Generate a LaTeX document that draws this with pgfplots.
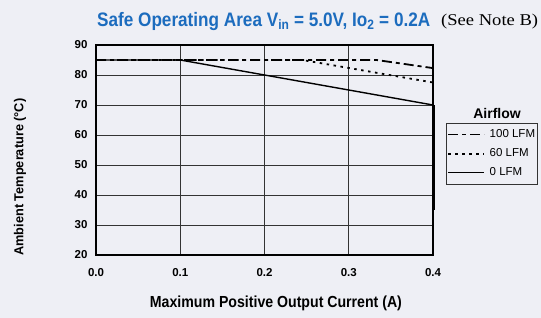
\documentclass[border=0pt]{standalone}
\usepackage{fontspec}
\setmainfont{Liberation Sans}
\newfontfamily\seriffont{Liberation Serif}
\usepackage{pgfplots}
\pgfplotsset{compat=1.18}
\definecolor{bgcol}{RGB}{238,239,245}
\definecolor{titleblue}{RGB}{28,108,190}
\begin{document}
\begin{tikzpicture}[x=1pt,y=1pt]
\fill[bgcol] (0,0) rectangle (541,318);
\begin{axis}[
  at={(96pt,63pt)}, anchor=south west,
  scale only axis, width=337pt, height=210pt,
  xmin=0, xmax=0.4, ymin=20, ymax=90,
  xtick={0,0.1,0.2,0.3,0.4}, ytick={20,30,...,90},
  xticklabel style={/pgf/number format/fixed, /pgf/number format/fixed zerofill, /pgf/number format/precision=1, yshift=-10pt},
  /pgf/number format/assume math mode=true,
  ticklabel style={font=\fontsize{11.5}{12}\selectfont\bfseries},
  yticklabel style={xshift=-5pt},
  major tick length=0pt,
  grid=major,
  major grid style={black!80, line width=0.8pt},
  axis line style={black, line width=1.2pt},
  legend style={at={(axis description cs:1.0386,0.629)}, anchor=north west,
    draw=black!80, line width=0.8pt, fill=bgcol,
    font=\fontsize{11.5}{12}\selectfont, row sep=6.5pt,
    inner xsep=1pt, inner ysep=5pt,
    nodes={inner sep=1.5pt},
    /tikz/every odd column/.append style={column sep=3pt}},
  legend cell align=left,
  legend image code/.code={\draw[#1] (0pt,0pt) -- (36pt,0pt);},
  clip=false,
]
\addplot[black, line width=1.8pt, dash pattern=on 10pt off 4pt on 4pt off 4pt]
  coordinates {(0,85) (0.333,85) (0.4,82.3) (0.4,35)};
\addlegendentry{100 LFM}
\addplot[black, line width=1.8pt, dash pattern=on 2.5pt off 4.5pt]
  coordinates {(0,85) (0.245,85) (0.4,77.5) (0.4,35)};
\addlegendentry{60 LFM}
\addplot[black, line width=1.4pt]
  coordinates {(0,85) (0.1,85) (0.4,70) (0.4,35)};
\addlegendentry{0 LFM}
\addplot[black, line width=3pt, forget plot]
  coordinates {(0.4,70) (0.4,35)};
\node[anchor=base west, inner sep=0pt] at (axis description cs:0.003,1.0905)
  {\color{titleblue}\resizebox{333pt}{\height}{\fontsize{19.5}{21}\selectfont\bfseries Safe Operating Area V\textsubscript{in} = 5.0V, Io\textsubscript{2} = 0.2A}};
\node[anchor=base west, inner sep=0pt] at (axis description cs:1.0237,1.0905)
  {\resizebox{97pt}{\height}{\seriffont\fontsize{16.5}{18}\selectfont (See Note B)}};
\node[inner sep=0pt] at (axis description cs:1.19,0.676)
  {\fontsize{14}{16}\selectfont\bfseries Airflow};
\node[inner sep=0pt, rotate=90] at (axis description cs:-0.2255,0.371)
  {\resizebox{157pt}{\height}{\fontsize{13}{15}\selectfont\bfseries Ambient Temperature (°C)}};
\node[inner sep=0pt] at (axis description cs:0.534,-0.229)
  {\resizebox{252pt}{\height}{\fontsize{16}{18}\selectfont\bfseries Maximum Positive Output Current (A)}};
\end{axis}
\pgfresetboundingbox
\useasboundingbox (0,0) rectangle (541,318);
\end{tikzpicture}
\end{document}
